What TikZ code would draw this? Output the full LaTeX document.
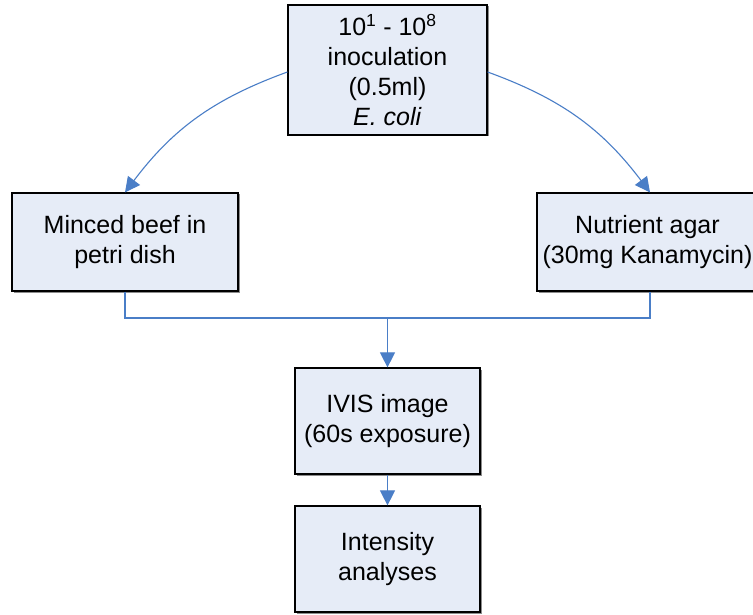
\documentclass[tikz,border=0pt]{standalone}
\usepackage{fontspec}
\setmainfont{Liberation Sans}
\usetikzlibrary{arrows.meta,shadows}
\definecolor{boxfill}{RGB}{230,236,247}
\definecolor{linkblue}{RGB}{74,126,199}
\tikzset{
  stagebox/.style={rectangle, draw=black, line width=1.2pt, fill=boxfill,
    align=center, inner sep=0pt,
    font=\fontsize{25}{30}\selectfont,
    drop shadow={shadow xshift=1.5pt, shadow yshift=-1.5pt, fill=black!45, opacity=1}},
  link/.style={draw=linkblue, line width=1.1pt},
  linkarrow/.style={link, -{Triangle[length=15pt,width=15pt]}}
}
\begin{document}
\begin{tikzpicture}[x=1pt,y=-1pt]
\clip (0,0) rectangle (753,615);
\fill[white] (0,0) rectangle (753,615);

% process steps
\node[stagebox, minimum width=199pt, minimum height=130pt] (inoc) at (387.5,70)
  {10\textsuperscript{1} - 10\textsuperscript{8}\\inoculation\\(0.5ml)\\\textit{E. coli}};
\node[stagebox, minimum width=226pt, minimum height=98pt] (beef) at (125,242)
  {Minced beef in\\petri dish};
\node[stagebox, minimum width=226pt, minimum height=98pt] (agar) at (650,242) {};
\node[font=\fontsize{25}{30}\selectfont, align=center, inner sep=0pt] (agartext)
  at (647.5,242) {Nutrient agar\\(30mg Kanamycin)};
\node[stagebox, minimum width=185pt, minimum height=106pt] (ivis) at (387.5,421)
  {IVIS image\\(60s exposure)};
\node[stagebox, minimum width=185pt, minimum height=106pt] (intens) at (387.5,559)
  {Intensity\\analyses};

% inoculation onto both media
\draw[linkarrow] ([yshift=-2pt]inoc.west) to[out=200, in=53] (beef.north);
\draw[linkarrow] ([yshift=-2pt]inoc.east) to[out=-20, in=127] (agar.north);

% both media joined into imaging
\coordinate (join) at (387.5,318);
\draw[link] (beef.south) |- (join) -| (agar.south);
\draw[linkarrow] (join) -- (ivis.north);
\draw[linkarrow] (ivis.south) -- (intens.north);
\end{tikzpicture}
\end{document}
